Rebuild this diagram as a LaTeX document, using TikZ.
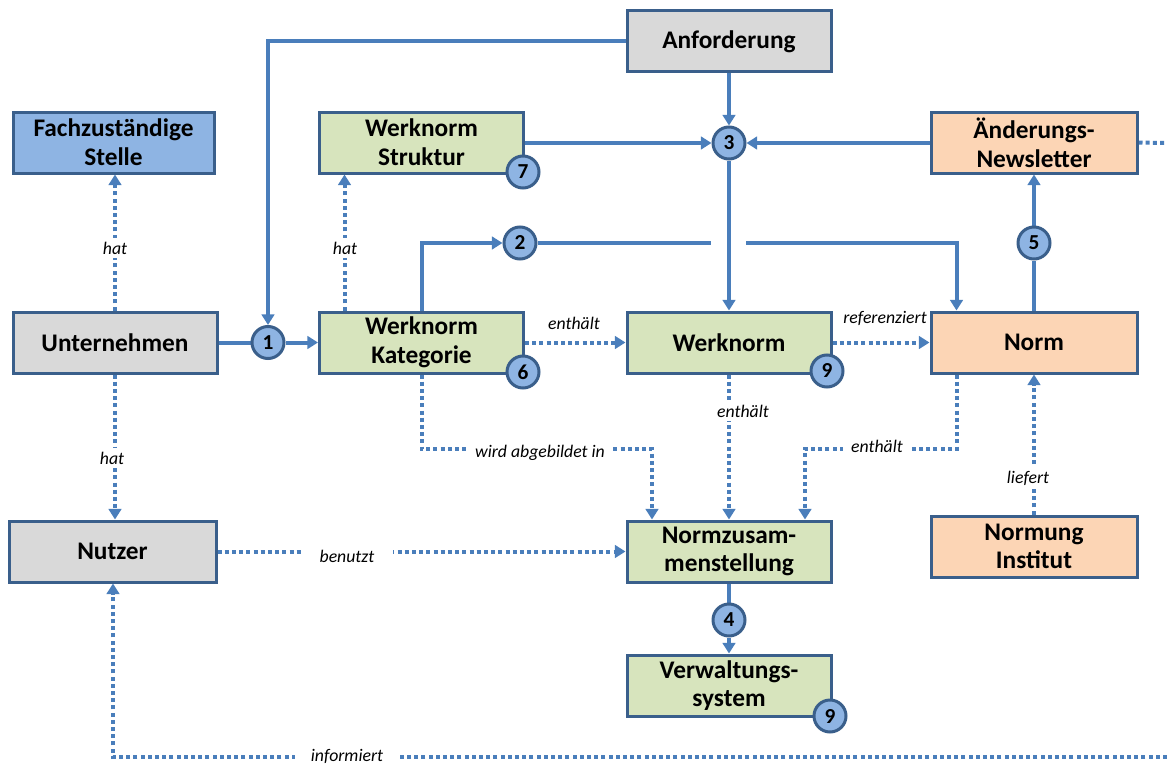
\documentclass[tikz,border=0pt]{standalone}
\usepackage{fontspec}
\setmainfont{Carlito}
\usetikzlibrary{arrows.meta,calc}
\pgfdeclarelayer{bg}
\pgfsetlayers{bg,main}
\definecolor{bordc}{HTML}{3A5F8B}
\definecolor{linec}{HTML}{4A7EBB}
\definecolor{bluef}{HTML}{8EB4E3}
\definecolor{greenf}{HTML}{D7E4BD}
\definecolor{grayf}{HTML}{D9D9D9}
\definecolor{orangef}{HTML}{FCD5B5}
\definecolor{circf}{HTML}{8EB4E3}
\begin{document}
\begin{tikzpicture}[x=0.75pt,y=-0.75pt,
  box/.style={draw=bordc, line width=2.25pt, minimum width=153pt, minimum height=45.75pt,
    align=center, font=\fontsize{19}{21.5}\selectfont\bfseries, inner sep=0pt},
  num/.style={circle, draw=bordc, fill=circf, line width=2.25pt, minimum size=24pt,
    inner sep=0pt, font=\fontsize{16}{16}\selectfont\bfseries},
  sl/.style={draw=linec, line width=3pt},
  sa/.style={sl, -{Triangle[length=8pt,width=9.5pt]}},
  dl/.style={draw=linec, line width=3pt, dash pattern=on 3pt off 2.4pt},
  da/.style={dl, -{Triangle[length=8pt,width=9.5pt]}},
  lab/.style={fill=white, font=\fontsize{13.3}{14}\selectfont\itshape, inner xsep=6pt, inner ysep=3pt}]
\useasboundingbox (0,0) rectangle (1167,767);

% boxes
\node[box, fill=bluef, minimum width=150.75pt] (fach) at (113.5,142.5) {Fachzuständige\\Stelle};
\node[box, fill=greenf] (struk) at (421.5,142.5) {Werknorm\\Struktur};
\node[box, fill=grayf] (anf) at (729,41.5) {Anforderung};
\node[box, fill=orangef, minimum width=154.5pt] (news) at (1034,142.5) {Änderungs-\\Newsletter};
\node[box, fill=grayf] (unt) at (115,342.5) {Unternehmen};
\node[box, fill=greenf] (kat) at (421.5,342.5) {Werknorm\\Kategorie};
\node[box, fill=greenf] (wn) at (729,342.5) {Werknorm};
\node[box, fill=orangef, minimum width=154.5pt] (norm) at (1034,342.5) {Norm};
\node[box, fill=grayf, minimum width=155.25pt] (nutzer) at (112.5,551.5) {Nutzer};
\node[box, fill=greenf] (nz) at (729,551.5) {Normzusam-\\menstellung};
\node[box, fill=orangef, minimum width=154.5pt] (ni) at (1034,546.5) {Normung\\Institut};
\node[box, fill=greenf] (vw) at (729,685.5) {Verwaltungs-\\system};

% numbered circles
\node[num] (c1) at (268,342.5) {1};
\node[num] (c2) at (520,243) {2};
\node[num] (c3) at (729,143) {3};
\node[num] (c4) at (729,620) {4};
\node[num] (c5) at (1034,243) {5};
\node[num] (c6) at (523,372) {6};
\node[num] (c7) at (523,172) {7};
\node[num] (c9a) at (827,371) {9};
\node[num] (c9b) at (830,716) {9};

% free ends and hop
\coordinate (hl) at (711,243);
\coordinate (hr) at (746,243);
\coordinate (re) at (1167,143);
\coordinate (rb) at (1167,757);
\coordinate (bl) at (113,757);
\coordinate (kbr) at (652,449);
\coordinate (nbl) at (805,449);

% labels
\node[lab] (l1) at (115,248) {hat};
\node[lab] (l2) at (345,248) {hat};
\node[lab] (l3) at (112,458) {hat};
\node[lab, fill=none] (l4) at (574,323) {enthält};
\node[lab, fill=none] (l5) at (885,318) {referenziert};
\node[lab] (l6) at (743,411) {enthält};
\node[lab] (l7) at (540,453) {wird abgebildet in};
\node[lab] (l8) at (877,446) {enthält};
\node[lab] (l9) at (1028,478) {liefert};
\node[lab, inner xsep=14pt] (l10) at (347,556) {benutzt};
\node[lab, inner xsep=12pt, inner ysep=1pt] (l11) at (347,756) {informiert};

\begin{pgfonlayer}{bg}
% solid connectors
\draw[sa] (anf.west) -| (c1.north);
\draw[sl] (unt.east) -- (c1.west);
\draw[sa] (c1.east) -- (kat.west);
\draw[sa] (anf.south) -- (c3.north);
\draw[sa] (struk.east |- c3) -- (c3.west);
\draw[sa] (news.west |- c3) -- (c3.east);
\draw[sa] (c3.south) -- (c3 |- wn.north);
\draw[sa] (kat.north) |- (c2.west);
\draw[sl] (c2.east) -- (hl);
\draw[sa] (hr) -| ([xshift=20.25pt]norm.north west);
\draw[sl] (c5 |- norm.north) -- (c5.south);
\draw[sa] (c5.north) -- (c5 |- news.south);
\draw[sl] (nz.south) -- (c4.north);
\draw[sa] (c4.south) -- (vw.north);
% dotted connectors
\draw[dl] (news.east) -- (re);
\draw[da] (unt.north) -- (unt.north |- fach.south);
\draw[da] ([xshift=-57.75pt]kat.north) -- ([xshift=-57.75pt]struk.south);
\draw[da] (kat.east) -- (wn.west);
\draw[da] (wn.east) -- (norm.west);
\draw[da] (unt.south) -- (unt.south |- nutzer.north);
\draw[da] (kat.south) |- (kbr) -- ([xshift=-57.75pt]nz.north);
\draw[da] (wn.south) -- (nz.north);
\draw[da] ([xshift=20.25pt]norm.south west) |- (nbl) -- ([xshift=57pt]nz.north);
\draw[da] (ni.north) -- (norm.south);
\draw[da] (nutzer.east) -- (nz.west);
\draw[da] (rb) -- (bl) -- (bl |- nutzer.south);
\end{pgfonlayer}
\end{tikzpicture}
\end{document}
